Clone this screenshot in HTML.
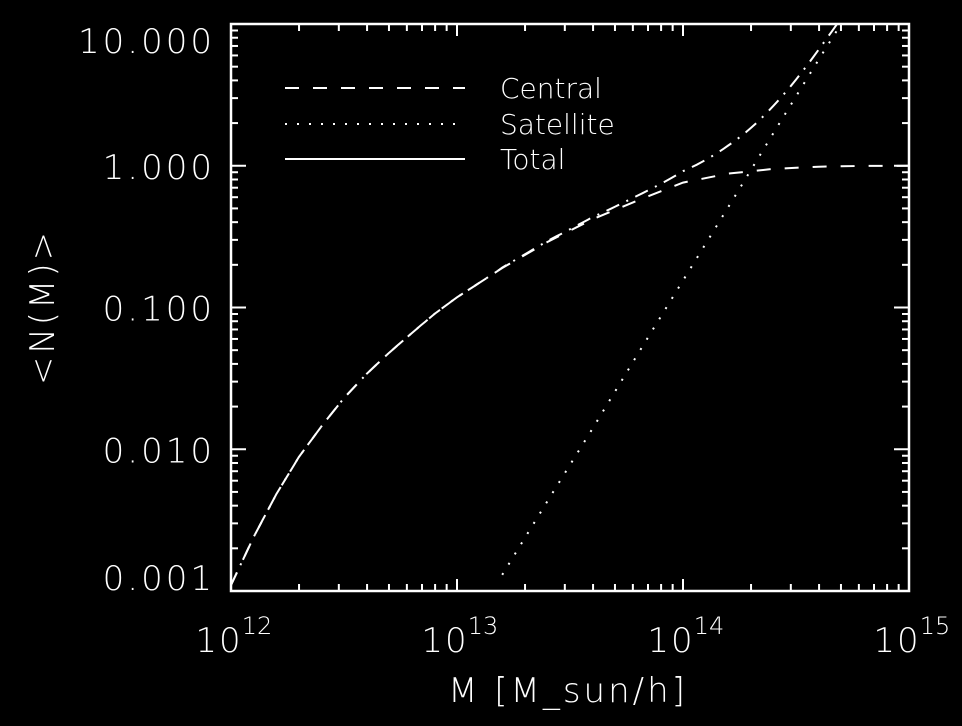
<!DOCTYPE html>
<html><head><meta charset="utf-8"><style>
html,body{margin:0;padding:0;background:#000;}
svg{display:block;}
text{font-family:"DejaVu Sans","Liberation Sans",sans-serif;fill:#fff;font-weight:200;}
</style></head><body>
<svg id="chart" width="962" height="726" viewBox="0 0 962 726">
<rect width="962" height="726" fill="#000"/>
<g id="axes"></g>
<g id="series"></g>
<g id="legend">
  <line x1="285" y1="88" x2="465" y2="88" stroke="#fff" stroke-width="2" stroke-dasharray="14,14"/>
  <text x="500" y="98" font-size="28">Central</text>
  <line x1="285" y1="124" x2="465" y2="124" stroke="#fff" stroke-width="2" stroke-dasharray="2,10"/>
  <text x="500" y="134" font-size="28">Satellite</text>
  <line x1="285" y1="159" x2="465" y2="159" stroke="#fff" stroke-width="2"/>
  <text x="500" y="169" font-size="28">Total</text>
</g>
<text x="568" y="702" font-size="34" letter-spacing="3" text-anchor="middle">M  [M_sun/h]</text>
<text x="0" y="0" font-size="34" letter-spacing="3" text-anchor="middle" transform="translate(54,307) rotate(-90)">&lt;N(M)&gt;</text>
</svg>
<script>
const centralLogM = [12.0,12.1,12.2,12.3,12.4,12.5,12.6,12.7,12.8,12.9,13.0,13.2,13.4,13.6,13.8,14.0,14.2,14.4,14.6,14.8,15.0];
const centralN = [0.0011,0.0024,0.0048,0.0088,0.0145,0.023,0.034,0.048,0.066,0.09,0.118,0.19,0.29,0.42,0.57,0.76,0.88,0.95,0.985,0.997,1.0];
const satLogM = [13.2,13.4,13.6,13.8,14.0,14.2,14.4,14.6,14.8];
const satN = [0.0013,0.0043,0.014,0.047,0.155,0.51,1.7,5.6,18.0];
const xTickExp = [12,13,14,15];
const yTickVals = [0.001,0.01,0.1,1,10];
const yTickLabels = ["0.001","0.010","0.100","1.000","10.000"];

const L=231,R=909,T=24,B=591;
const xMin=12,xMax=15,yMin=-3,yMax=1;
const NS='http://www.w3.org/2000/svg';
function X(lm){return L+(lm-xMin)/(xMax-xMin)*(R-L);}
function Y(n){return B-(Math.log10(n)-yMin)/(yMax-yMin)*(B-T);}
function mk(tag,attrs,parent){const e=document.createElementNS(NS,tag);for(const k in attrs)e.setAttribute(k,attrs[k]);parent.appendChild(e);return e;}
const axes=document.getElementById('axes');
const frame=mk('rect',{x:L,y:T,width:R-L,height:B-T,fill:'none',stroke:'#fff','stroke-width':2.5},axes);


for(let d=xMin;d<=xMax;d++){
  for(let m=1;m<10;m++){
    if(d===xMax&&m>1)break;
    const x=X(d+Math.log10(m));
    const len=m===1?12:7;
    mk('line',{x1:x,y1:B,x2:x,y2:B-len,stroke:'#fff','stroke-width':2},axes);
    mk('line',{x1:x,y1:T,x2:x,y2:T+len,stroke:'#fff','stroke-width':2},axes);
  }
}
xTickExp.forEach(e=>{
  const t=mk('text',{x:X(e)-12,y:652,'font-size':34,'letter-spacing':2,'text-anchor':'middle'},axes);
  t.textContent='10';
  
  
  const s=mk('text',{x:X(e)+26,y:634,'font-size':24,'text-anchor':'middle'},axes);
  s.textContent=String(e);
  
  
});
for(let d=yMin;d<=yMax;d++){
  for(let m=1;m<10;m++){
    if(d===yMax&&m>1)break;
    const y=Y(Math.pow(10,d)*m);
    const len=m===1?15:7;
    mk('line',{x1:L,y1:y,x2:L+len,y2:y,stroke:'#fff','stroke-width':2},axes);
    mk('line',{x1:R,y1:y,x2:R-len,y2:y,stroke:'#fff','stroke-width':2},axes);
  }
}
yTickVals.forEach((v,i)=>{
  const c=Math.min(Math.max(Y(v),40),577);
  const t=mk('text',{x:215,y:c+13,'font-size':34,'letter-spacing':3,'text-anchor':'end'},axes);
  t.textContent=yTickLabels[i];
  
  
});
const ser=document.getElementById('series');
function interp(xs,ys,lm){
  if(lm<xs[0]-1e-9||lm>xs[xs.length-1]+1e-9)return null;
  for(let i=0;i<xs.length-1;i++){
    if(lm<=xs[i+1]){const f=(lm-xs[i])/(xs[i+1]-xs[i]);return Math.pow(10,Math.log10(ys[i])+f*(Math.log10(ys[i+1])-Math.log10(ys[i])));}
  }
  return ys[ys.length-1];
}
function path(xs,ys){
  return xs.map((x,i)=>(i?'L':'M')+X(x).toFixed(1)+','+Y(ys[i]).toFixed(1)).join(' ');
}
const clip=mk('clipPath',{id:'pc'},ser);
mk('rect',{x:L,y:T,width:R-L,height:B-T},clip);
const pc=mk('path',{d:path(centralLogM,centralN),fill:'none',stroke:'#fff','stroke-width':2,'stroke-dasharray':'14,14','clip-path':'url(#pc)'},ser);


const ps=mk('path',{d:path(satLogM,satN),fill:'none',stroke:'#fff','stroke-width':2,'stroke-dasharray':'2,10','clip-path':'url(#pc)'},ser);


const tx=[],ty=[];
const satEnd=satLogM[satLogM.length-1];
for(let k=0;k<=150;k++){
  const lm=xMin+k*0.02;
  if(lm>satEnd+1e-9)break;
  const c=interp(centralLogM,centralN,lm)||0;
  const s=interp(satLogM,satN,lm)||0;
  tx.push(lm);ty.push(c+s);
}
const pt=mk('path',{d:path(tx,ty),fill:'none',stroke:'#fff','stroke-width':2,'stroke-dasharray':'14,8,2,8','clip-path':'url(#pc)'},ser);


</script>
</body></html>
